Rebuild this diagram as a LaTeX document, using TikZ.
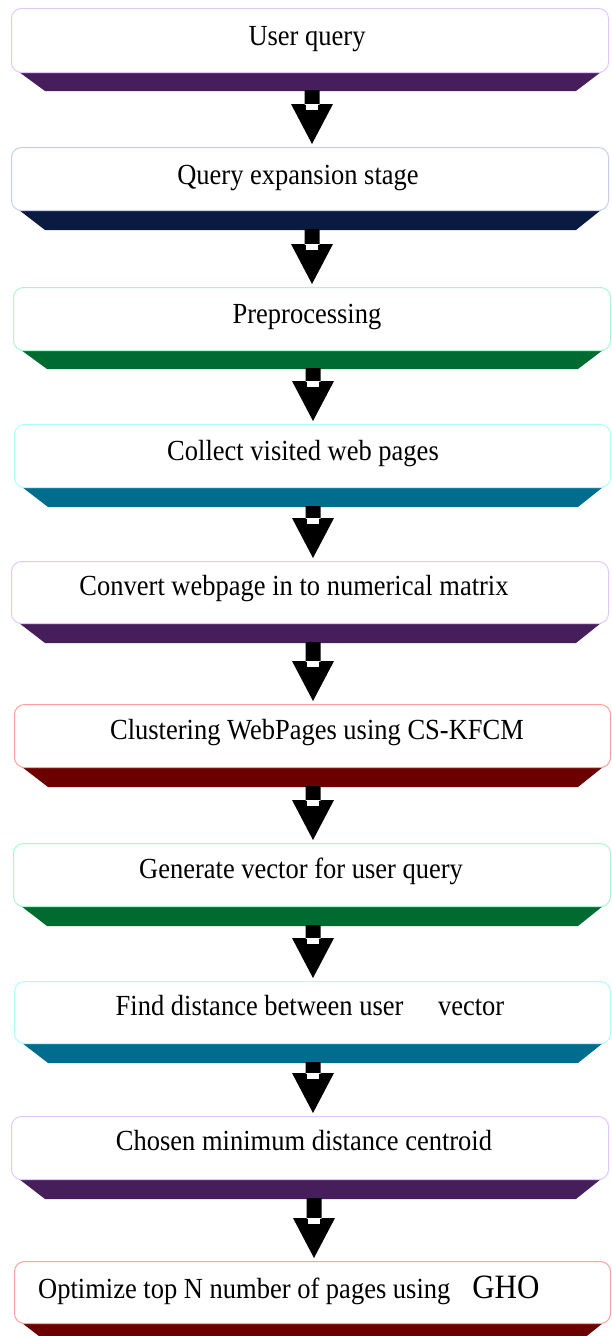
\documentclass[tikz,border=0pt]{standalone}
\usepackage{fontspec}
\setmainfont{Liberation Serif}
\usetikzlibrary{calc}
\definecolor{bandP}{HTML}{461E5C}
\definecolor{bdP}{HTML}{E0C8FF}
\definecolor{bandN}{HTML}{0B1A40}
\definecolor{bdN}{HTML}{C5D0E8}
\definecolor{bandG}{HTML}{006B30}
\definecolor{bdG}{HTML}{A9F7D2}
\definecolor{bandT}{HTML}{006D8E}
\definecolor{bdT}{HTML}{AAFFFF}
\definecolor{bandR}{HTML}{6C0000}
\definecolor{bdR}{HTML}{FF9E9E}
\tikzset{
  stagebox/.style={rectangle, rounded corners=10pt, fill=white, line width=1pt, inner sep=0pt, anchor=north west},
  txt/.style={font=\fontsize{26.5}{30}\selectfont, inner sep=0pt, text height=0.68em, text depth=0.22em},
}
\newcommand\tallt[1]{\scalebox{1}[1.1]{#1}}
% band: color, L, R, T, B
\newcommand\band[5]{\fill[#1] ({#2+8},#4) -- ({#3-7},#4) -- ({#3-32},#5) -- ({#2+34},#5) -- cycle;}
\newcommand\flowarr[2]{%
  \fill let \p1=(#1-bot), \p2=(#2.north) in
    ({\x1-7.5pt},{\y1+1pt}) rectangle ({\x1+7.5pt},{\y2+42pt})
    ({\x1-21pt},{\y2+43pt}) -- ({\x1+21pt},{\y2+43pt}) -- (\x1,{\y2+3pt}) -- cycle;
  \fill[white] let \p1=(#1-bot), \p2=(#2.north) in
    ({\x1-6pt},{\y2+43pt}) rectangle ({\x1+6pt},{\y2+37pt});
}
\begin{document}
\begin{tikzpicture}[x=1pt,y=-1pt]
\useasboundingbox (0,0) rectangle (611,1336);
\clip (0,0) rectangle (611,1336);
% 1
\band{bandP}{11}{608}{72}{91}
\node[stagebox, draw=bdP, minimum width=597pt, minimum height=64pt] (b1) at (11,8) {};
\node[txt] (t1) at (307,43) {\tallt{User query}};
\coordinate (b1-bot) at (312,91);
% 2
\band{bandN}{11}{608}{210}{230}
\node[stagebox, draw=bdN, minimum width=597pt, minimum height=63pt] (b2) at (11,147) {};
\node[txt] (t2) at (298,182) {\tallt{Query expansion stage}};
\coordinate (b2-bot) at (312,230);
% 3
\band{bandG}{13}{610}{350}{369}
\node[stagebox, draw=bdG, minimum width=597pt, minimum height=63pt] (b3) at (13,287) {};
\node[txt] (t3) at (307,321) {\tallt{Preprocessing}};
\coordinate (b3-bot) at (313,369);
% 4
\band{bandT}{14}{610}{487}{507}
\node[stagebox, draw=bdT, minimum width=596pt, minimum height=63pt] (b4) at (14,424) {};
\node[txt] (t4) at (303,458) {\tallt{Collect visited web pages}};
\coordinate (b4-bot) at (313,507);
% 5
\band{bandP}{11}{608}{623}{643}
\node[stagebox, draw=bdP, minimum width=597pt, minimum height=62pt] (b5) at (11,561) {};
\node[txt] (t5) at (294,593) {\tallt{Convert webpage in to numerical matrix}};
\coordinate (b5-bot) at (313,643);
% 6
\band{bandR}{14}{610}{767}{787}
\node[stagebox, draw=bdR, minimum width=596pt, minimum height=63pt] (b6) at (14,704) {};
\node[txt] (t6) at (317,737) {\tallt{Clustering WebPages using CS-KFCM}};
\coordinate (b6-bot) at (313,787);
% 7
\band{bandG}{13}{610}{906}{926}
\node[stagebox, draw=bdG, minimum width=597pt, minimum height=63pt] (b7) at (13,843) {};
\node[txt] (t7) at (301,876) {\tallt{Generate vector for user query}};
\coordinate (b7-bot) at (313,926);
% 8
\band{bandT}{14}{610}{1043}{1063}
\node[stagebox, draw=bdT, minimum width=596pt, minimum height=62pt] (b8) at (14,981) {};
\node[txt] (t8) at (310,1013) {\tallt{Find distance between user\hspace{28pt} vector}};
\coordinate (b8-bot) at (313,1063);
% 9
\band{bandP}{11}{608}{1179}{1199}
\node[stagebox, draw=bdP, minimum width=597pt, minimum height=63pt] (b9) at (11,1116) {};
\node[txt] (t9) at (304,1148) {\tallt{Chosen minimum distance centroid}};
\coordinate (b9-bot) at (314,1199);
% 10
\band{bandR}{14}{610}{1323}{1343}
\node[stagebox, draw=bdR, minimum width=596pt, minimum height=62pt] (b10) at (14,1261) {};
\node[txt, anchor=west] (t10) at (38,1296) {\tallt{Optimize top N number of pages using\hspace{22pt}{\fontsize{31}{34}\selectfont GHO}}};
% arrows
\flowarr{b1}{b2}
\flowarr{b2}{b3}
\flowarr{b3}{b4}
\flowarr{b4}{b5}
\flowarr{b5}{b6}
\flowarr{b6}{b7}
\flowarr{b7}{b8}
\flowarr{b8}{b9}
\flowarr{b9}{b10}
\end{tikzpicture}
\end{document}
